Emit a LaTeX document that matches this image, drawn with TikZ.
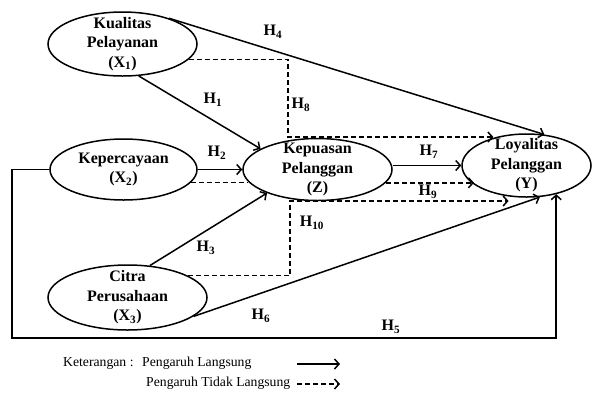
\documentclass[tikz,border=0pt]{standalone}
\usepackage{fontspec}
\setmainfont{Liberation Serif}
\usetikzlibrary{shapes.geometric,arrows.meta}
\newcommand{\hyp}[1]{\textbf{H\textsubscript{#1}}}
\begin{document}
\begin{tikzpicture}[x=1pt,y=-1pt,
  lat/.style={draw,ellipse,line width=1.5pt,inner sep=0pt},
  txt/.style={align=center,inner sep=0pt,font=\bfseries\fontsize{16}{19.5}\selectfont},
  dir/.style={line width=1.5pt,-{Straight Barb[length=4.5pt,width=10pt]}},
  ind/.style={dir,dash pattern=on 5pt off 3pt},
  hl/.style={inner sep=0pt,font=\bfseries\fontsize{16}{19}\selectfont},
  leg/.style={inner sep=0pt,anchor=west,font=\fontsize{13.7}{16}\selectfont}]
\useasboundingbox (0,0) rectangle (592,392);
% latent variables
\node[lat,minimum width=149pt,minimum height=64pt] (X1) at (122.5,44) {};
\node[txt] (X1t) at (X1) {Kualitas\\Pelayanan\\(X\textsubscript{1})};
\node[lat,minimum width=147pt,minimum height=61pt] (X2) at (123.5,169.5) {};
\node[txt] (X2t) at (X2) {Kepercayaan\\(X\textsubscript{2})};
\node[lat,minimum width=159pt,minimum height=65pt] (X3) at (127.5,297.5) {};
\node[txt] (X3t) at (X3) {Citra\\Perusahaan\\(X\textsubscript{3})};
\node[lat,minimum width=149pt,minimum height=62pt] (Z) at (317.5,169.5) {};
\node[txt] (Zt) at (Z) {Kepuasan\\Pelanggan\\(Z)};
\node[lat,minimum width=129pt,minimum height=63pt] (Y) at (526.5,165.5) {};
\node[txt] (Yt) at (Y) {Loyalitas\\Pelanggan\\(Y)};
% helper coordinates
\coordinate (k1) at (288,137);
\coordinate (k3) at (290,201);
\coordinate (b1) at (12,338);
% direct effects
\draw[dir] (X1.29) -- (Y.60);
\draw[dir] (X1.-63) -- (Z.160);
\draw[dir] (X2.east) -- (Z.west);
\draw[dir] (X3.55) -- (Z.-155);
\draw[dir] (Y.west -| Z.east) -- (Y.west);
\draw[dir] (X3.-16) -- (Y.-67);
\draw[dir] (X2.west) -| (b1) -| (Y.-44);
% indirect effects
\draw[ind] (X1.-13) -| (k1) -- (k1 -| Y.140);
\draw[ind,-] (X2.-11) -- (X2.-11 -| Z.190);
\draw[ind] (X3.20) -| (k3) -- (k3 -| Y.-120);
\draw[ind] (Z.-11) -- (Z.-11 -| Y.-160);
% hypothesis labels
\node[hl] (h1) at (213,100) {\hyp{1}};
\node[hl] (h2) at (217,153) {\hyp{2}};
\node[hl] (h3) at (206,248) {\hyp{3}};
\node[hl] (h4) at (273,32) {\hyp{4}};
\node[hl] (h5) at (391,327) {\hyp{5}};
\node[hl] (h6) at (261,316) {\hyp{6}};
\node[hl] (h7) at (429,152) {\hyp{7}};
\node[hl] (h8) at (301,105) {\hyp{8}};
\node[hl] (h9) at (428,192) {\hyp{9}};
\node[hl] (h10) at (312,223) {\hyp{10}};
% legend
\node[leg] (lk) at (63,363) {Keterangan :};
\node[leg] (ll) at (142,363) {Pengaruh Langsung};
\node[leg] (lt) at (146,383) {Pengaruh Tidak Langsung};
\coordinate (l1) at (297,364);
\coordinate (l2) at (340,364);
\coordinate (l3) at (297,384);
\coordinate (l4) at (340,384);
\draw[dir] (l1) -- (l2);
\draw[ind] (l3) -- (l4);
\end{tikzpicture}
\end{document}
